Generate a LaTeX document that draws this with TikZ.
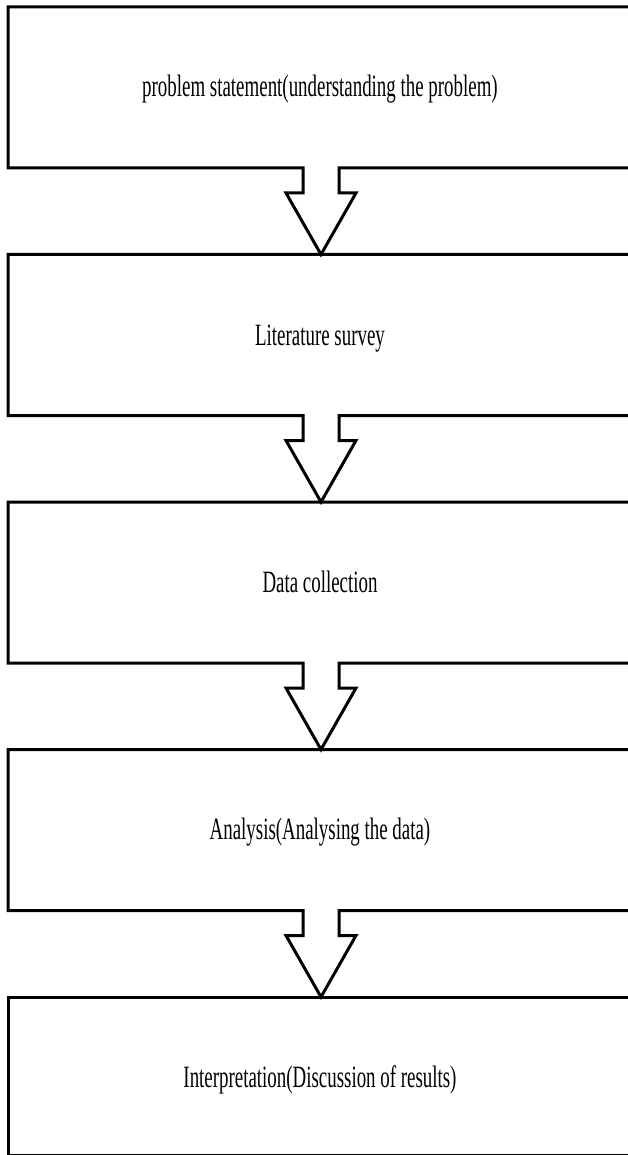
\documentclass[tikz,border=0pt]{standalone}
\usepackage{fontspec}
\setmainfont{Liberation Serif}[FakeStretch=0.61]
\begin{document}
\begin{tikzpicture}[x=1pt,y=-1pt,
  outline/.style={line width=3pt, line join=miter, draw=black},
  area/.style={minimum width=620pt, minimum height=#1, inner sep=0pt, outer sep=0pt, draw=none},
  lbl/.style={font=\fontsize{31}{34}\selectfont, inner sep=0pt, anchor=base}]
\useasboundingbox (0,0) rectangle (628,1155);
\fill[white] (0,0) rectangle (628,1155);
% box areas (right side runs off the page)
\node[area=161pt] (b1) at (318,87.5) {};
\node[area=161pt] (b2) at (318,335) {};
\node[area=161pt] (b3) at (318,582.5) {};
\node[area=161pt] (b4) at (318,830) {};
\node[area=158pt] (b5) at (318,1076) {};
% labels
\node[lbl] (t1) at ([xshift=2pt,yshift=-90pt]b1.north) {problem statement(understanding the problem)};
\node[lbl] (t2) at ([xshift=2pt,yshift=-91pt]b2.north) {Literature survey};
\node[lbl] (t3) at ([xshift=2pt,yshift=-90pt]b3.north) {Data collection};
\node[lbl] (t4) at ([xshift=2pt,yshift=-90pt]b4.north) {Analysis(Analysing the data)};
\node[lbl] (t5) at ([xshift=2pt,yshift=-90pt]b5.north) {Interpretation(Discussion of results)};
% outlines with block arrows
\foreach \a/\b in {b1/b2,b2/b3,b3/b4,b4/b5}{
  \draw[outline] (\a.north east) -- (\a.north west) -- (\a.south west)
    -- ([xshift=-15pt]\a.south) -- ([xshift=-15pt,yshift=-25pt]\a.south)
    -- ([xshift=-32pt,yshift=-25pt]\a.south) -- ([xshift=3pt]\b.north)
    -- ([xshift=38pt,yshift=-25pt]\a.south) -- ([xshift=21pt,yshift=-25pt]\a.south)
    -- ([xshift=21pt]\a.south) -- (\a.south east);
}
\draw[outline] (b5.north east) -- (b5.north west) -- (b5.south west) -- (b5.south east);
\end{tikzpicture}
\end{document}
